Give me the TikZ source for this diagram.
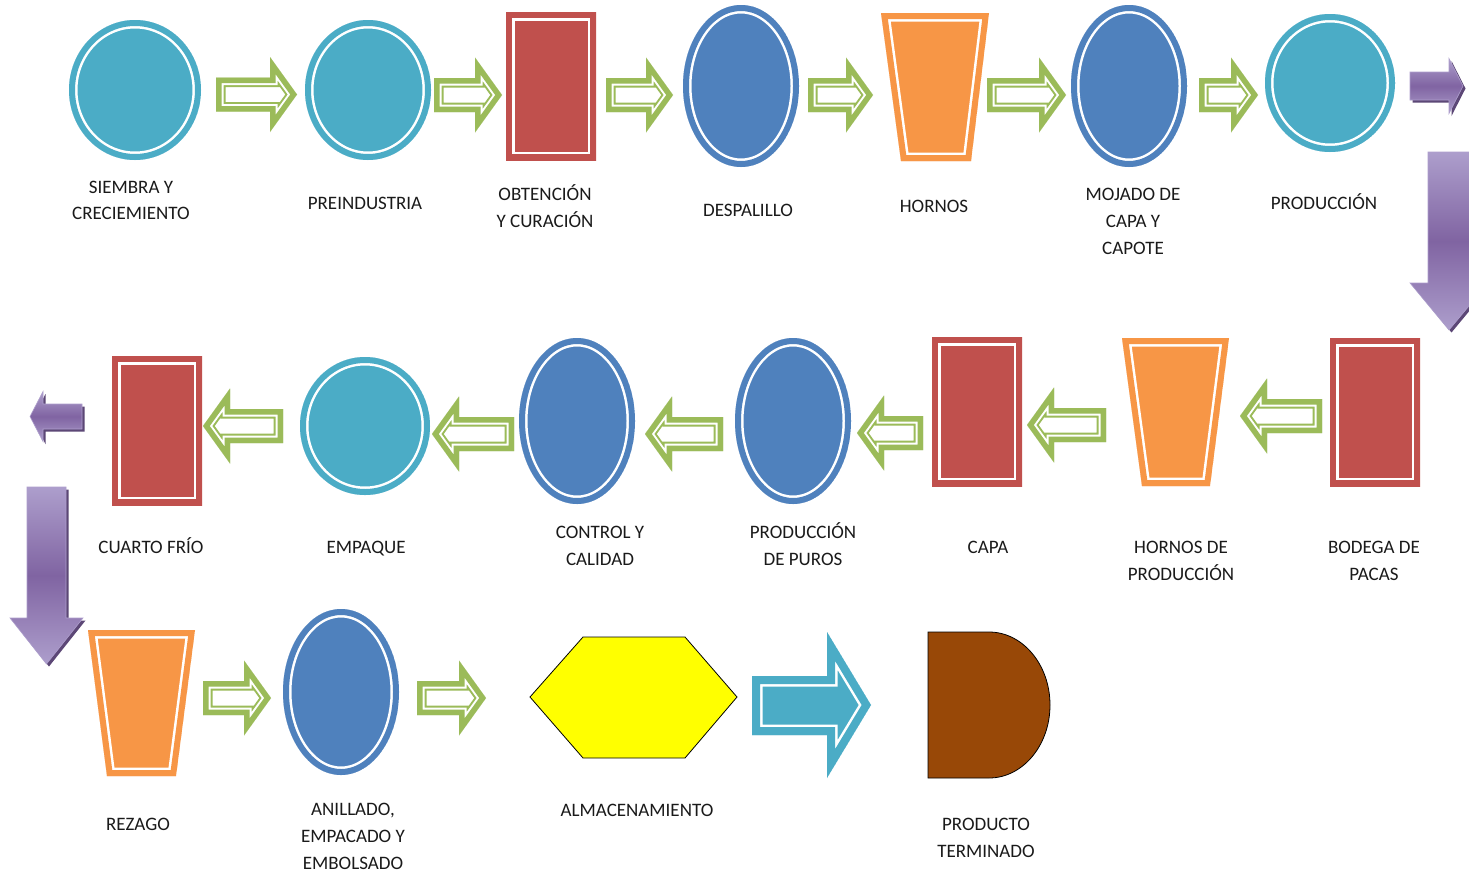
\documentclass[tikz,border=0pt]{standalone}
\usepackage{fontspec}
\setmainfont{Carlito}
\definecolor{tealc}{HTML}{4BACC6}
\definecolor{redc}{HTML}{C0504D}
\definecolor{bluec}{HTML}{4F81BD}
\definecolor{orngc}{HTML}{F79646}
\definecolor{grnc}{HTML}{9BBB59}
\definecolor{purL}{HTML}{AD9ECC}
\definecolor{purD}{HTML}{8064A2}
\definecolor{purS}{HTML}{5C4776}
\definecolor{brwnc}{HTML}{984807}
\definecolor{yelc}{RGB}{255,255,0}
\definecolor{txtc}{HTML}{1A1A1A}
% shape with coloured band, white line, coloured interior
\newcommand\bandshape[2]{\begin{scope}\clip #2; \fill[#1] #2; \draw[white,line width=17] #2; \draw[#1,line width=12] #2;\end{scope}}
% green outlined arrow
\newcommand\gband[1]{\begin{scope}\clip #1; \fill[white] #1; \draw[grnc,line width=19] #1; \draw[white,line width=15] #1; \draw[grnc,line width=11] #1;\end{scope}}
\newcommand\garrow[4]{\gband{(#1,#4-17) -- (#2,#4-17) -- (#2,#4-37.5) -- (#3,#4) -- (#2,#4+37.5) -- (#2,#4+17) -- (#1,#4+17) -- cycle}}
% purple 3D arrows
\newcommand\pshade[1]{\fill[purS,shift={(2.5,2.5)}] #1; \shade[top color=purL,bottom color=purL,middle color=purD,draw=purL,line width=0.6] #1;}
\newcommand\parrowH[6]{\pshade{(#1,#4-#5) -- (#2,#4-#5) -- (#2,#4-#6) -- (#3,#4) -- (#2,#4+#6) -- (#2,#4+#5) -- (#1,#4+#5) -- cycle}}
\newcommand\parrowV[6]{\pshade{(#1-#5,#2) -- (#1+#5,#2) -- (#1+#5,#3) -- (#1+#6,#3) -- (#1,#4) -- (#1-#6,#3) -- (#1-#5,#3) -- cycle}}
\begin{document}
\begin{tikzpicture}[x=1pt,y=-1pt,
  lbl/.style={font=\fontsize{19}{22}\selectfont,inner sep=0pt,anchor=base,text=txtc}]
\useasboundingbox (0,0) rectangle (1469,873);
\fill[white] (0,0) rectangle (1469,873);

% ---------- row 1 ----------
\bandshape{tealc}{(135,90) ellipse [x radius=66,y radius=70]}
\garrow{216}{270}{297}{94.5}
\bandshape{tealc}{(368,90) ellipse [x radius=63,y radius=70]}
\garrow{434}{475}{502}{95}
\bandshape{redc}{(506,12) rectangle (596,160)}
\garrow{606}{646}{673}{95}
\bandshape{bluec}{(741,86) ellipse [x radius=58,y radius=81]}
\garrow{808}{846}{873}{95}
\bandshape{orngc}{(881,13) -- (989,13) -- (971,161) -- (901,161) -- cycle}
\garrow{987}{1039}{1066}{95}
\bandshape{bluec}{(1129,86) ellipse [x radius=58,y radius=81]}
\garrow{1199}{1231}{1258}{95}
\bandshape{tealc}{(1330,83) ellipse [x radius=65,y radius=69]}
\parrowH{1410}{1449}{1463}{86}{14}{27.5}
\parrowV{1449}{152}{283}{330}{21}{39}

% ---------- row 2 ----------
\bandshape{redc}{(1330,338) rectangle (1420,486)}
\garrow{1322}{1267}{1240}{416}
\bandshape{orngc}{(1122,338) -- (1229,338) -- (1210,486) -- (1142,486) -- cycle}
\garrow{1106}{1054}{1027}{425}
\bandshape{redc}{(932,337) rectangle (1022,486)}
\garrow{923}{884}{857}{433}
\bandshape{bluec}{(793,421) ellipse [x radius=58,y radius=83]}
\garrow{723}{672}{645}{434}
\bandshape{bluec}{(577,421) ellipse [x radius=58,y radius=83]}
\garrow{514}{459}{432}{434}
\bandshape{tealc}{(365,426) ellipse [x radius=65,y radius=69]}
\garrow{283}{230}{203}{426}
\bandshape{redc}{(112,356) rectangle (202,505)}
\parrowH{82}{43}{30}{416.5}{12.5}{25}
\parrowV{46.5}{487}{618}{664}{19.5}{36.5}

% ---------- row 3 ----------
\bandshape{orngc}{(88,630) -- (195,630) -- (176,776) -- (107,776) -- cycle}
\garrow{203}{244}{271}{698}
\bandshape{bluec}{(341,692) ellipse [x radius=58,y radius=83]}
\garrow{417}{459}{486}{698}
\draw[fill=yelc,line width=0.8] (530,697) -- (583,637) -- (685,637) -- (737,697) -- (685,758) -- (583,758) -- cycle;
\begin{scope}
\clip (752,676) -- (827,676) -- (827,632) -- (871,705) -- (827,778) -- (827,735) -- (752,735) -- cycle;
\fill[tealc] (752,676) -- (827,676) -- (827,632) -- (871,705) -- (827,778) -- (827,735) -- (752,735) -- cycle;
\draw[white,line width=21] (752,676) -- (827,676) -- (827,632) -- (871,705) -- (827,778) -- (827,735) -- (752,735) -- cycle;
\draw[tealc,line width=16] (752,676) -- (827,676) -- (827,632) -- (871,705) -- (827,778) -- (827,735) -- (752,735) -- cycle;
\end{scope}
\draw[fill=brwnc,line width=0.8] (928,632) -- (989,632) arc [start angle=-90,end angle=90,x radius=61,y radius=73] -- (928,778) -- cycle;

% ---------- labels ----------
\node[lbl] (t1a) at (131,193) {SIEMBRA Y};
\node[lbl] (t1b) at (131,219) {CRECIEMIENTO};
\node[lbl] (t2) at (365,209) {PREINDUSTRIA};
\node[lbl] (t3a) at (545,200) {OBTENCIÓN};
\node[lbl] (t3b) at (545,227) {Y CURACIÓN};
\node[lbl] (t4) at (748,216) {DESPALILLO};
\node[lbl] (t5) at (934,212) {HORNOS};
\node[lbl] (t6a) at (1133,200) {MOJADO DE};
\node[lbl] (t6b) at (1133,227) {CAPA Y};
\node[lbl] (t6c) at (1133,254) {CAPOTE};
\node[lbl] (t7) at (1324,209) {PRODUCCIÓN};
\node[lbl] (t8a) at (1374,553) {BODEGA DE};
\node[lbl] (t8b) at (1374,580) {PACAS};
\node[lbl] (t9a) at (1181,553) {HORNOS DE};
\node[lbl] (t9b) at (1181,580) {PRODUCCIÓN};
\node[lbl] (t10) at (988,553) {CAPA};
\node[lbl] (t11a) at (803,538) {PRODUCCIÓN};
\node[lbl] (t11b) at (803,565) {DE PUROS};
\node[lbl] (t12a) at (600,538) {CONTROL Y};
\node[lbl] (t12b) at (600,565) {CALIDAD};
\node[lbl] (t13) at (366,553) {EMPAQUE};
\node[lbl] (t14) at (151,553) {CUARTO FRÍO};
\node[lbl] (t15) at (138,830) {REZAGO};
\node[lbl] (t16a) at (353,815) {ANILLADO,};
\node[lbl] (t16b) at (353,842) {EMPACADO Y};
\node[lbl] (t16c) at (353,869) {EMBOLSADO};
\node[lbl] (t17) at (637,816) {ALMACENAMIENTO};
\node[lbl] (t18a) at (986,830) {PRODUCTO};
\node[lbl] (t18b) at (986,857) {TERMINADO};
\end{tikzpicture}
\end{document}
